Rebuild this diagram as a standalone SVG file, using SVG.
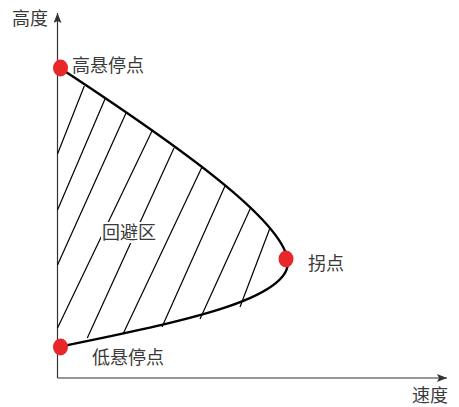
<svg xmlns="http://www.w3.org/2000/svg" width="459" height="407" viewBox="0 0 459 407">
<defs>
<style>
.lbl{font-family:"Noto Sans CJK SC","Noto Sans CJK JP",sans-serif;font-size:18px;fill:#3a3a3a}
.axis{stroke:#333;stroke-width:1.2;fill:none}
.hatch{stroke:#000;stroke-width:1.2;fill:none}
.curve{stroke:#000;stroke-width:2.4;fill:none}
.pt{fill:#e8272a}
</style>
<marker id="arr" viewBox="0 0 10 8" refX="10" refY="4" markerWidth="10" markerHeight="8" markerUnits="userSpaceOnUse" orient="auto">
<path d="M0,0 L10,4 L0,8 L2,4 Z" fill="#333"/>
</marker>
</defs>
<rect width="459" height="407" fill="#fff"/>
<g id="axes">
<line class="axis" x1="57.5" y1="378" x2="57.5" y2="13" marker-end="url(#arr)"/>
<line class="axis" x1="57.5" y1="378" x2="447" y2="378" marker-end="url(#arr)"/>
<text class="lbl" x="12" y="25">高度</text>
<text class="lbl" x="412" y="402">速度</text>
</g>
<g id="connectors">
<g id="hatch">
<line class="hatch" x1="57.5" y1="154" x2="84.3" y2="86"/>
<line class="hatch" x1="57.5" y1="210" x2="105" y2="99"/>
<line class="hatch" x1="57.5" y1="265" x2="126" y2="113"/>
<line class="hatch" x1="57.5" y1="328" x2="152" y2="131"/>
<line class="hatch" x1="87.3" y1="338" x2="174" y2="148"/>
<line class="hatch" x1="123" y1="334" x2="202" y2="167"/>
<line class="hatch" x1="162" y1="327" x2="225" y2="186"/>
<line class="hatch" x1="200" y1="319" x2="251" y2="207"/>
<line class="hatch" x1="240" y1="307" x2="270" y2="228"/>
</g>
<path id="boundary" class="curve" d="M63,70 C200,160 285,225 288,262 C289,300 180,322 63,346"/>
</g>
<g id="zone">
<rect x="101" y="222" width="58" height="21" fill="#fff"/>
<text class="lbl" x="102" y="239">回避区</text>
</g>
<g id="high-hover">
<ellipse class="pt" cx="60.5" cy="68" rx="7.5" ry="8.5"/>
<text class="lbl" x="72" y="72">高悬停点</text>
</g>
<g id="inflection">
<ellipse class="pt" cx="286" cy="259" rx="7.5" ry="8.5"/>
<text class="lbl" x="308" y="270">拐点</text>
</g>
<g id="low-hover">
<ellipse class="pt" cx="60.5" cy="347" rx="7.5" ry="8.5"/>
<text class="lbl" x="92" y="364">低悬停点</text>
</g>
</svg>
